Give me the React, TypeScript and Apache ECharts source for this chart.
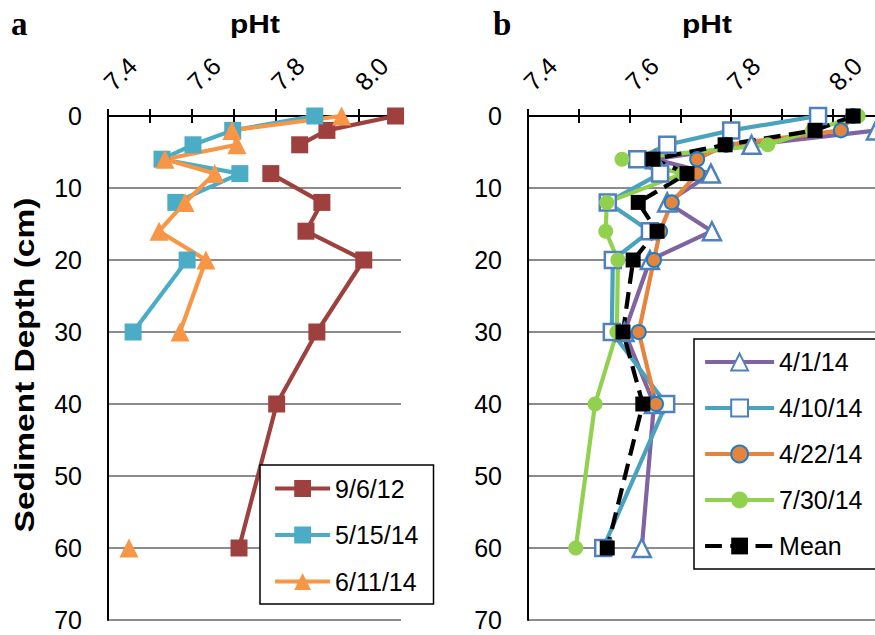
import React, { useEffect, useRef } from "react";
import * as echarts from "echarts";

// Sediment depths (cm) shared by all series
const DEPTHS = [0, 2, 4, 6, 8, 12, 16, 20, 30, 40, 60];

// Panel a – pHt profiles
const PH_9_6_12 = [8.087, 7.923, 7.858, null, 7.789, 7.911, 7.873, 8.011, 7.899, 7.803, 7.713];
const PH_5_15_14 = [7.894, 7.698, 7.603, 7.529, 7.715, 7.562, null, 7.589, 7.46, null, null];
const PH_6_11_14 = [7.958, 7.696, 7.708, 7.536, 7.655, 7.584, 7.522, 7.634, 7.572, null, 7.45];

// Panel b – pHt profiles
const PH_4_1_14 = [8.1, 8.085, 7.84, 7.65, 7.76, 7.674, 7.762, 7.64, 7.59, 7.648, 7.624];
const PH_4_10_14 = [7.971, 7.8, 7.674, 7.615, 7.66, 7.557, 7.64, 7.567, 7.565, 7.672, 7.548];
const PH_4_22_14 = [8.04, 8.016, 7.79, 7.733, 7.733, 7.683, 7.66, 7.648, 7.618, 7.652, null];
const PH_7_30_14 = [8.05, 7.96, 7.872, 7.585, 7.705, 7.555, 7.553, 7.577, 7.575, 7.532, 7.494];
const PH_MEAN = [8.04, 7.965, 7.788, 7.646, 7.713, 7.617, 7.654, 7.607, 7.587, 7.626, 7.556];

const NAMES_A = ["9/6/12", "5/15/14", "6/11/14"];
const NAMES_B = ["4/1/14", "4/10/14", "4/22/14", "7/30/14", "Mean"];

// x (pHt) axis: range, tick step and the labelled ticks
const X_MIN = 7.4;
const X_MAX = 8.1;
const X_STEP = 0.1;
const X_TICK_LABELS = [7.4, 7.6, 7.8, 8.0];
// y (depth) axis
const Y_MIN = 0;
const Y_MAX = 70;
const Y_STEP = 10;

const FONT = "'Liberation Sans', Arial, sans-serif";
const LINE_W = 4.2;

const pairs = (vals: (number | null)[]) =>
  vals.map((v, i) => (v == null ? ["-", DEPTHS[i]] : [v, DEPTHS[i]]));

function xAxes(gridIndex: number) {
  const base = {
    gridIndex,
    type: "value",
    position: "top",
    min: X_MIN,
    max: X_MAX,
    interval: X_STEP,
    splitLine: { show: false },
    axisLabel: { show: false },
  };
  return [
    {
      ...base,
      axisLine: { show: true, onZero: false, lineStyle: { color: "#000", width: 2 } },
      axisTick: { show: true, inside: false, length: 7, lineStyle: { color: "#000", width: 2 } },
    },
    {
      ...base,
      axisLine: { show: false, onZero: false },
      axisTick: { show: true, inside: true, length: 7, lineStyle: { color: "#000", width: 2 } },
    },
  ];
}

function yAxis(gridIndex: number) {
  return {
    gridIndex,
    type: "value",
    inverse: true,
    min: Y_MIN,
    max: Y_MAX,
    interval: Y_STEP,
    axisLine: { show: true, onZero: false, lineStyle: { color: "#000", width: 2 } },
    axisTick: { show: false },
    axisLabel: { fontSize: 25, color: "#000", margin: 26, fontFamily: FONT },
    splitLine: { show: true, lineStyle: { color: "#8C8C8C", width: 2 } },
  };
}

function lineSeries(
  name: string,
  vals: (number | null)[],
  xAxisIndex: number,
  yAxisIndex: number,
  lineColor: string,
  symbol: string,
  symbolSize: number,
  itemStyle: any,
  dashed = false
) {
  return {
    name,
    type: "line",
    xAxisIndex,
    yAxisIndex,
    data: pairs(vals),
    symbol,
    symbolSize,
    showAllSymbol: true,
    connectNulls: false,
    lineStyle: { color: lineColor, width: LINE_W, type: dashed ? "dashed" : "solid" },
    itemStyle,
    emphasis: { disabled: true },
  };
}

export default function App() {
  const ref = useRef<HTMLDivElement>(null);

  useEffect(() => {
    if (!ref.current) return;
    const chart = echarts.init(ref.current, undefined, { renderer: "svg" });

    const legendBase = {
      orient: "vertical",
      itemHeight: 21,
      borderColor: "#000",
      borderWidth: 1.5,
      backgroundColor: "#fff",
      borderRadius: 0,
      lineStyle: { width: LINE_W },
      textStyle: { fontSize: 25, color: "#000", fontFamily: FONT },
      selectedMode: false,
    };

    const titleText = (x: number, text: string) => ({
      type: "text",
      x,
      y: 24,
      scaleX: 1.15,
      style: {
        text,
        font: "bold 26px 'Liberation Sans', Arial, sans-serif",
        fill: "#000",
        align: "center",
        verticalAlign: "middle",
      },
    });

    const panelLetter = (x: number, text: string) => ({
      type: "text",
      x,
      y: 24,
      style: {
        text,
        font: "bold 33px 'Liberation Serif', 'Times New Roman', serif",
        fill: "#000",
        align: "left",
        verticalAlign: "middle",
      },
    });

    const option: any = {
      animation: false,
      backgroundColor: "#fff",
      textStyle: { fontFamily: FONT },
      grid: [
        { left: 108, top: 116, width: 293, height: 504, containLabel: false, outerBoundsMode: "none" },
        { left: 528, top: 116, width: 355.6, height: 504, containLabel: false, outerBoundsMode: "none" },
      ],
      xAxis: [...xAxes(0), ...xAxes(1)],
      yAxis: [yAxis(0), yAxis(1)],
      legend: [
        {
          ...legendBase,
          left: 260,
          top: 465,
          itemWidth: 55,
          itemGap: 21.5,
          padding: [11, 15, 10, 13],
          data: NAMES_A,
        },
        {
          ...legendBase,
          left: 694,
          top: 339,
          itemWidth: 69,
          itemGap: 21,
          padding: [10.5, 14, 10.5, 9],
          data: NAMES_B,
        },
      ],
      series: [
        lineSeries(NAMES_A[0], PH_9_6_12, 0, 0, "#9E413E", "rect", 17, { color: "#9E413E" }),
        lineSeries(NAMES_A[1], PH_5_15_14, 0, 0, "#4BACC6", "rect", 17, { color: "#4BACC6" }),
        lineSeries(NAMES_A[2], PH_6_11_14, 0, 0, "#F79646", "triangle", 19, { color: "#F79646" }),
        lineSeries(NAMES_B[0], PH_4_1_14, 2, 1, "#8064A2", "triangle", 18, {
          color: "#fff",
          borderColor: "#4F81BD",
          borderWidth: 2.5,
        }),
        lineSeries(NAMES_B[1], PH_4_10_14, 2, 1, "#4AA3BD", "rect", 16, {
          color: "#fff",
          borderColor: "#4F81BD",
          borderWidth: 2.5,
        }),
        lineSeries(NAMES_B[2], PH_4_22_14, 2, 1, "#E5843C", "circle", 14, {
          color: "#E5843C",
          borderColor: "#1F7DC8",
          borderWidth: 2,
        }),
        lineSeries(NAMES_B[3], PH_7_30_14, 2, 1, "#92D050", "circle", 15, { color: "#92D050" }),
        lineSeries(NAMES_B[4], PH_MEAN, 2, 1, "#000", "rect", 15, { color: "#000" }, true),
      ],
    };

    chart.setOption(option);

    // rotated pHt tick labels, placed with the axes' own scales
    const tickLabels: any[] = [];
    [0, 2].forEach((axisIndex) => {
      X_TICK_LABELS.forEach((v) => {
        const px = chart.convertToPixel({ xAxisIndex: axisIndex } as any, v) as number;
        tickLabels.push({
          type: "text",
          x: px,
          y: 86,
          rotation: Math.PI / 4,
          style: {
            text: v.toFixed(1),
            font: "25px 'Liberation Sans', Arial, sans-serif",
            fill: "#000",
            align: "left",
            verticalAlign: "middle",
          },
        });
      });
    });

    chart.setOption({
      graphic: [
        panelLetter(11, "a"),
        panelLetter(493, "b"),
        titleText(255, "pHt"),
        titleText(707, "pHt"),
        {
          type: "text",
          x: 24,
          y: 365,
          rotation: Math.PI / 2,
          scaleX: 1.24,
          style: {
            text: "Sediment Depth (cm)",
            font: "bold 27px 'Liberation Sans', Arial, sans-serif",
            fill: "#000",
            align: "center",
            verticalAlign: "middle",
          },
        },
        ...tickLabels,
      ],
    });

    return () => chart.dispose();
  }, []);

  return (
    <div
      ref={ref}
      style={{ position: "fixed", left: 0, top: 0, width: 875, height: 635, background: "#fff" }}
    />
  );
}
